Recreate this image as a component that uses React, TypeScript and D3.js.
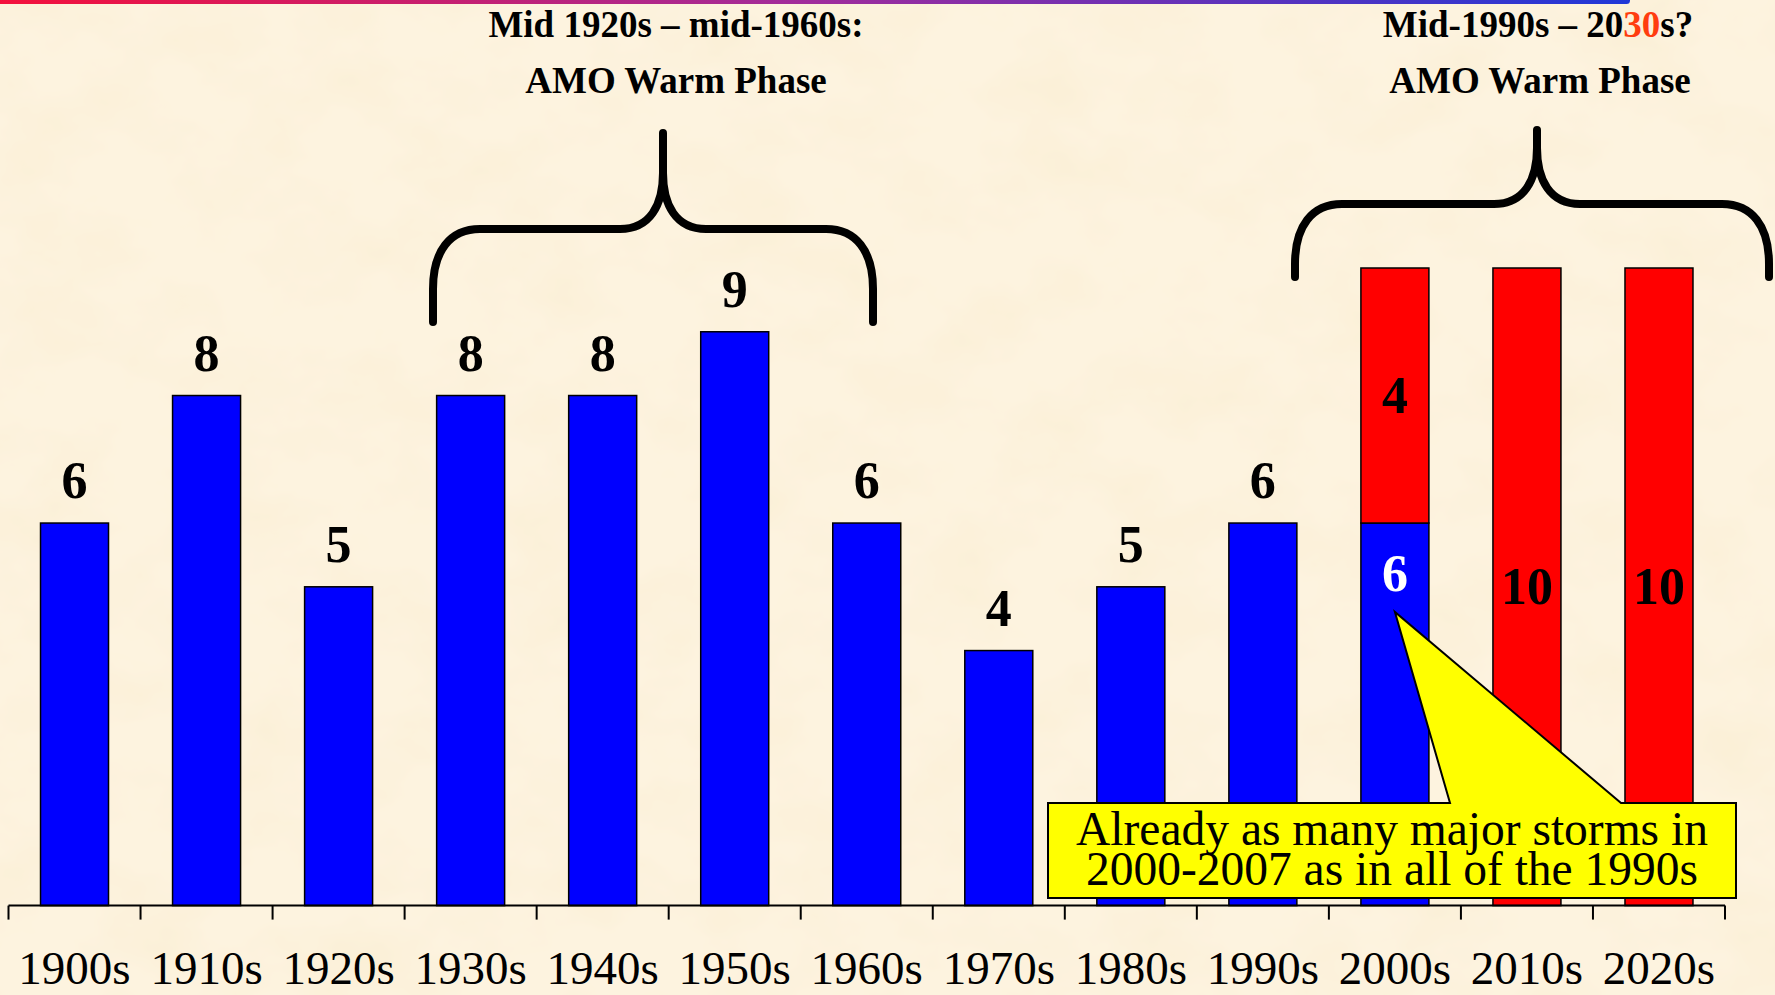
import React from 'react';
import * as d3 from 'd3';

// major hurricanes per decade
const DECADES = ['1900s', '1910s', '1920s', '1930s', '1940s', '1950s', '1960s', '1970s', '1980s', '1990s', '2000s', '2010s', '2020s'];
const OBSERVED = [6, 8, 5, 8, 8, 9, 6, 4, 5, 6, 6, 0, 0];
const PROJECTED = [0, 0, 0, 0, 0, 0, 0, 0, 0, 0, 4, 10, 10];

const PHASE_LINE1 = ['Mid 1920s – mid-1960s:', 'Mid-1990s – 20'];
const PHASE_LINE2 = ['AMO Warm Phase', 'AMO Warm Phase'];
const CALLOUT_LINES = ['Already as many major storms in', '2000-2007 as in all of the 1990s'];

const W = 1775;
const H = 995;
const FONT = '"Liberation Serif", "Times New Roman", serif';

// curly brace opening downwards
const bracket = (x0: number, x1: number, xm: number, yB: number, yH: number, yT: number) => {
  const p = d3.path();
  p.moveTo(x0, yB);
  p.lineTo(x0, yH + 60);
  p.bezierCurveTo(x0, yH + 22, x0 + 17, yH, x0 + 47, yH);
  p.lineTo(xm - 43, yH);
  p.bezierCurveTo(xm - 13, yH, xm, yH - 24, xm, yH - 56);
  p.lineTo(xm, yT);
  p.moveTo(xm, yH - 56);
  p.bezierCurveTo(xm, yH - 24, xm + 13, yH, xm + 43, yH);
  p.lineTo(x1 - 47, yH);
  p.bezierCurveTo(x1 - 17, yH, x1, yH + 22, x1, yH + 60);
  p.lineTo(x1, yB);
  return p.toString();
};

export default function App() {
  const x = d3.scaleBand<string>()
    .domain(DECADES)
    .range([8.5, 1725])
    .paddingInner(0.485)
    .paddingOuter(0.2425);
  const y = d3.scaleLinear().domain([0, 10]).range([905.6, 268]);

  const step = x.step();
  const x0 = x.range()[0];
  const ticks = d3.range(DECADES.length + 1).map(i => x0 + i * step);

  const bars = DECADES.map((d, i) => {
    const obs = OBSERVED[i];
    const proj = PROJECTED[i];
    const bx = x(d) as number;
    const bw = x.bandwidth();
    const cx = bx + bw / 2;
    const out: React.ReactNode[] = [];
    if (obs > 0) {
      out.push(<rect key={'b' + i} x={bx} y={y(obs)} width={bw} height={y(0) - y(obs)}
        fill="#0000ff" stroke="#000" strokeWidth={1.5} />);
    }
    if (proj > 0) {
      out.push(<rect key={'r' + i} x={bx} y={y(obs + proj)} width={bw} height={y(obs) - y(obs + proj)}
        fill="#ff0000" stroke="#000" strokeWidth={1.5} />);
      const mid = (y(obs) + y(obs + proj)) / 2;
      out.push(<text key={'rl' + i} x={cx} y={mid + 17} textAnchor="middle" fontWeight="bold"
        fontSize={52} fill="#000">{proj}</text>);
      if (obs > 0) {
        out.push(<text key={'bl' + i} x={cx} y={y(obs) + 68} textAnchor="middle" fontWeight="bold"
          fontSize={52} fill="#fff">{obs}</text>);
      }
    } else {
      out.push(<text key={'l' + i} x={cx} y={y(obs) - 25} textAnchor="middle" fontWeight="bold"
        fontSize={52} fill="#000">{obs}</text>);
    }
    return out;
  });

  const tipX = (x('2000s') as number) + x.bandwidth() / 2;
  const callout = `M1048,803 L1450,803 L${tipX},612 L1621,803 L1736,803 L1736,898 L1048,898 Z`;

  return (
    <svg width={W} height={H} style={{ position: 'absolute', left: 0, top: 0, display: 'block' }}
      fontFamily={FONT}>
      <defs>
        <filter id="paper" x="0" y="0" width="100%" height="100%">
          <feTurbulence type="fractalNoise" baseFrequency="0.01 0.014" numOctaves={4} seed={7} />
          <feColorMatrix type="matrix"
            values="0 0 0 0 0.93  0 0 0 0 0.82  0 0 0 0 0.58  0.7 0 0 0 -0.28" />
        </filter>
        <linearGradient id="topline" x1="0" x2="1" y1="0" y2="0">
          <stop offset="0" stopColor="#f5103a" />
          <stop offset="0.5" stopColor="#a02c9c" />
          <stop offset="1" stopColor="#2038d8" />
        </linearGradient>
      </defs>
      <rect width={W} height={H} fill="#fdf3df" />
      <rect width={W} height={H} filter="url(#paper)" />
      <rect x={-10} y={-3} width={1640} height={7} rx={3.5} fill="url(#topline)" />

      {bars}

      <line x1={ticks[0]} x2={ticks[ticks.length - 1]} y1={y(0)} y2={y(0)} stroke="#000" strokeWidth={2} />
      {ticks.map((t, i) => (
        <line key={'t' + i} x1={t} x2={t} y1={y(0)} y2={y(0) + 14} stroke="#000" strokeWidth={2} />
      ))}
      {DECADES.map(d => (
        <text key={'c' + d} x={(x(d) as number) + x.bandwidth() / 2} y={984} textAnchor="middle"
          fontSize={47} fill="#000">{d}</text>
      ))}

      <path d={bracket(433, 873, 663, 322, 229, 133)} fill="none" stroke="#000" strokeWidth={8}
        strokeLinecap="round" strokeLinejoin="round" />
      <path d={bracket(1295, 1769, 1537, 277, 204, 130)} fill="none" stroke="#000" strokeWidth={8}
        strokeLinecap="round" strokeLinejoin="round" />

      <g fontWeight="bold" fontSize={37} textAnchor="middle" fill="#000">
        <text x={676} y={37}>{PHASE_LINE1[0]}</text>
        <text x={676} y={92.7}>{PHASE_LINE2[0]}</text>
        <text x={1538} y={37}>{PHASE_LINE1[1]}<tspan fill="#ff3d0f">30</tspan>s?</text>
        <text x={1540} y={92.7}>{PHASE_LINE2[1]}</text>
      </g>

      <path d={callout} fill="#ffff00" stroke="#000" strokeWidth={2} strokeLinejoin="miter" />
      {CALLOUT_LINES.map((l, i) => (
        <text key={'co' + i} x={1392} y={845 + i * 40} textAnchor="middle" fontSize={47.5} fill="#000">{l}</text>
      ))}
    </svg>
  );
}
